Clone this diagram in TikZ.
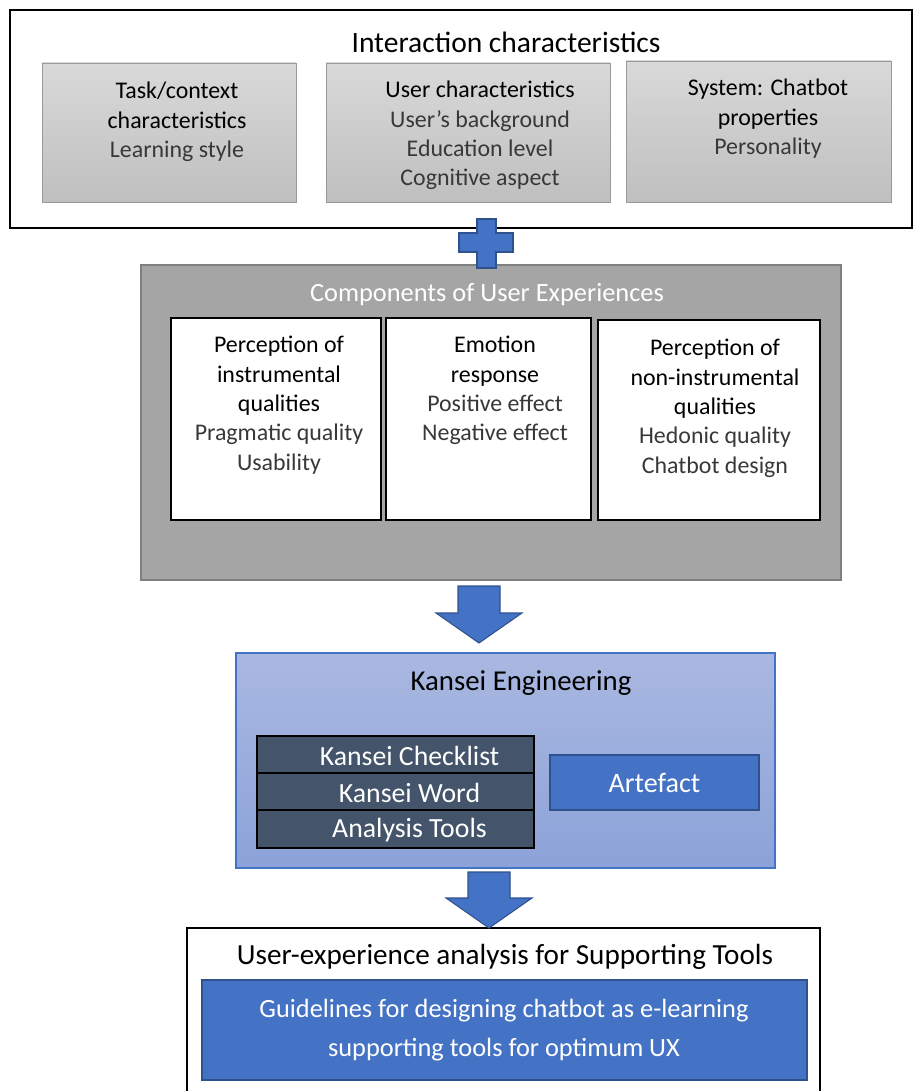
\documentclass[tikz,border=0pt]{standalone}
\usepackage{fontspec}
\setmainfont{Carlito}
\usetikzlibrary{calc,fit}

\definecolor{uxblue}{HTML}{4472C4}
\definecolor{uxblueedge}{HTML}{2F528F}
\definecolor{uxslate}{HTML}{44546A}
\definecolor{uxgrey}{HTML}{A5A5A5}
\definecolor{uxgreyedge}{HTML}{7F7F7F}
\definecolor{uxgreytop}{HTML}{D9D9D9}
\definecolor{uxgreybot}{HTML}{BFBFBF}
\definecolor{uxlighttop}{HTML}{A9B8E1}
\definecolor{uxlightbot}{HTML}{8CA2D8}
\definecolor{uxtext}{HTML}{383838}

\newcommand{\blockdown}[2]{%
  \draw[blockarrow] ($(#1)+(-21,0)$) -- ($(#1)+(21,0)$) -- ($(#2)+(21,-30)$)
    -- ($(#2)+(43,-30)$) -- (#2) -- ($(#2)+(-43,-30)$) -- ($(#2)+(-21,-30)$) -- cycle;}

\begin{document}
\begin{tikzpicture}[x=0.02cm,y=-0.02cm]
\useasboundingbox (0,0) rectangle (914,1091);
\clip (0,0) rectangle (914,1091);
\tikzset{frame/.style={draw=black, line width=1.1pt, fill=white, inner sep=0}}
\tikzset{greybox/.style={draw=uxgreybot!80!black, line width=0.5pt, top color=uxgreytop, bottom color=uxgreybot, inner sep=0}}
\tikzset{itembox/.style={draw=black, line width=0.6pt, fill=white, inner sep=0}}
\tikzset{stackrow/.style={draw=black, line width=1.1pt, fill=uxslate, inner sep=0}}
\tikzset{bluebox/.style={draw=uxblueedge, line width=1.1pt, fill=uxblue, inner sep=0}}
\tikzset{blockarrow/.style={draw=uxblueedge, line width=0.6pt, fill=uxblue}}
\tikzset{itemtext/.style={align=center, inner sep=0, anchor=north, font=\fontsize{13.6}{16.7}\selectfont}}
\tikzset{titletext/.style={inner sep=0, font=\fontsize{16.8}{20}\selectfont}}
\tikzset{rowtext/.style={inner sep=0, text=white, font=\fontsize{15.8}{19}\selectfont}}

\node[frame, fit={(10,10) (912,228)}] (interaction) {};
\node[titletext] (intertitle) at (506,42) {Interaction characteristics};
\node[greybox, fit={(42,63) (296,202)}] (task) {};
\node[greybox, fit={(326,63) (610,202)}] (user) {};
\node[greybox, fit={(626,61) (891,202)}] (system) {};
\node[itemtext] (tasktext) at (177,82) {Task/context\\characteristics\\{\color{uxtext}Learning style}};
\node[itemtext] (usertext) at (480,81) {User characteristics\\{\color{uxtext}User’s background}\\{\color{uxtext}Education level}\\{\color{uxtext}Cognitive aspect}};
\node[itemtext] (systemtext) at (768,79) {System: Chatbot\\properties\\{\color{uxtext}Personality}};

\node[draw=uxgreyedge, line width=1.1pt, fill=uxgrey, inner sep=0, fit={(141,265) (841,580)}] (components) {};
\node[titletext, text=white, font=\fontsize{15}{18}\selectfont] (comptitle) at (487,295) {Components of User Experiences};
\node[itembox, fit={(171,318) (381,520)}] (instr) {};
\node[itembox, fit={(386,318) (591,520)}] (emotion) {};
\node[itembox, fit={(598,320) (820,520)}] (noninstr) {};
\node[itemtext] (instrtext) at (279,336) {Perception of\\instrumental\\qualities\\{\color{uxtext}Pragmatic quality}\\{\color{uxtext}Usability}};
\node[itemtext] (emotiontext) at (495,336) {Emotion\\response\\{\color{uxtext}Positive effect}\\{\color{uxtext}Negative effect}};
\node[itemtext] (noninstrtext) at (715,339) {Perception of\\non-instrumental\\qualities\\{\color{uxtext}Hedonic quality}\\{\color{uxtext}Chatbot design}};

\node[draw=uxblue, line width=0.6pt, top color=uxlighttop, bottom color=uxlightbot, inner sep=0, fit={(236,653) (775,868)}] (kansei) {};
\node[titletext, font=\fontsize{16.4}{20}\selectfont] (kanseititle) at (521,683) {Kansei Engineering};
\node[stackrow, fit={(257,736) (534,773)}] (checklist) {};
\node[stackrow, fit={(257,773) (534,810)}] (word) {};
\node[stackrow, fit={(257,810) (534,848)}] (tools) {};
\node[rowtext] at ($(checklist.center)+(14,1)$) {Kansei Checklist};
\node[rowtext] at ($(word.center)+(14,1)$) {Kansei Word};
\node[rowtext] at ($(tools.center)+(14,1)$) {Analysis Tools};
\node[bluebox, fit={(550,755) (759,810)}] (artefact) {};
\node[rowtext, font=\fontsize{16}{19}\selectfont] at (artefact.center) {Artefact};

\node[draw=black, line width=0.8pt, fill=white, inner sep=0, fit={(187,928) (820,1110)}] (analysis) {};
\node[titletext, font=\fontsize{16.6}{19}\selectfont] (analysistitle) at (505,957) {User-experience analysis for Supporting Tools};
\node[bluebox, fit={(202,980) (807,1080)}] (guide) {};
\node[align=center, inner sep=0, text=white, font=\fontsize{15}{22.5}\selectfont] at (504,1030) {Guidelines for designing chatbot as e-learning\\supporting tools for optimum UX};

\coordinate (a1t) at (479,586);
\coordinate (a1b) at (479,643);
\coordinate (a2t) at (489,872);
\coordinate (a2b) at (489,928);
\blockdown{a1t}{a1b}
\blockdown{a2t}{a2b}

\draw[blockarrow] (477,219) -- (496,219) -- (496,233) -- (513,233) -- (513,252) -- (496,252)
  -- (496,268) -- (477,268) -- (477,252) -- (459,252) -- (459,233) -- (477,233) -- cycle;
\end{tikzpicture}
\end{document}
